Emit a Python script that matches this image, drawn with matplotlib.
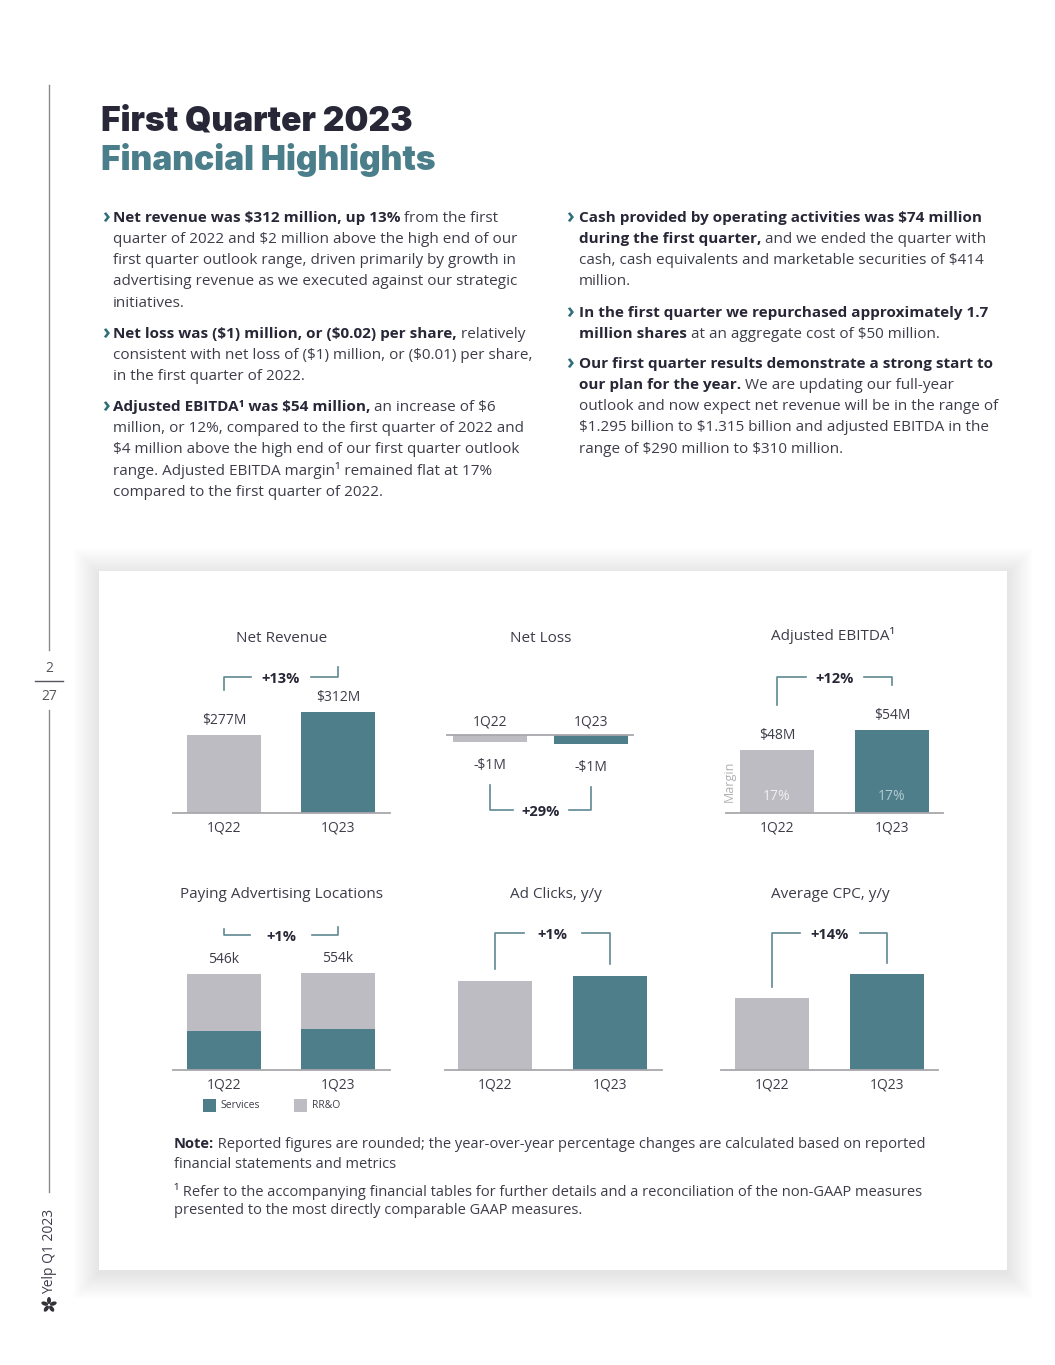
import math

import matplotlib.pyplot as plt
from matplotlib.patches import Rectangle, Ellipse

plt.rcParams["text.parse_math"] = False
plt.rcParams["font.family"] = ["Open Sans", "DejaVu Sans"]

W, H = 1055, 1365
DY = 2  # small nudge so centred text sits where the print does

TEAL = "#4d7e8a"
GREY = "#bdbcc2"
INK = "#3d3d4a"
DARK = "#272737"
LINE = "#5f8992"
AXIS = "#a8a8ac"
CHEVRON = "#2f6f7a"

# ---- data ----
quarters = ["1Q22", "1Q23"]
net_revenue = [277, 312]
net_revenue_labels = ["$277M", "$312M"]
net_loss = [-1.0, -1.3]
net_loss_labels = ["-$1M", "-$1M"]
adj_ebitda = [48, 54]
adj_ebitda_labels = ["$48M", "$54M"]
ebitda_margin = ["17%", "17%"]
pal_services = [222, 235]
pal_rro = [324, 319]
pal_labels = ["546k", "554k"]
ad_clicks = [100, 101]  # indexed, 1Q22 = 100
avg_cpc = [100, 114]    # indexed, 1Q22 = 100
chg_revenue, chg_loss, chg_ebitda = "+13%", "+29%", "+12%"
chg_pal, chg_clicks, chg_cpc = "+1%", "+1%", "+14%"

left_bullets = [
    [[("Net revenue was $312 million, up 13%", True), (" from the first", False)],
     [("quarter of 2022 and $2 million above the high end of our", False)],
     [("first quarter outlook range, driven primarily by growth in", False)],
     [("advertising revenue as we executed against our strategic", False)],
     [("initiatives.", False)]],
    [[("Net loss was ($1) million, or ($0.02) per share,", True), (" relatively", False)],
     [("consistent with net loss of ($1) million, or ($0.01) per share,", False)],
     [("in the first quarter of 2022.", False)]],
    [[("Adjusted EBITDA\u00b9 was $54 million,", True), (" an increase of $6", False)],
     [("million, or 12%, compared to the first quarter of 2022 and", False)],
     [("$4 million above the high end of our first quarter outlook", False)],
     [("range. Adjusted EBITDA margin\u00b9 remained flat at 17%", False)],
     [("compared to the first quarter of 2022.", False)]],
]
left_starts = [216, 332, 405]

right_bullets = [
    [[("Cash provided by operating activities was $74 million", True)],
     [("during the first quarter,", True), (" and we ended the quarter with", False)],
     [("cash, cash equivalents and marketable securities of $414", False)],
     [("million.", False)]],
    [[("In the first quarter we repurchased approximately 1.7", True)],
     [("million shares", True), (" at an aggregate cost of $50 million.", False)]],
    [[("Our first quarter results demonstrate a strong start to", True)],
     [("our plan for the year.", True), (" We are updating our full-year", False)],
     [("outlook and now expect net revenue will be in the range of", False)],
     [("$1.295 billion to $1.315 billion and adjusted EBITDA in the", False)],
     [("range of $290 million to $310 million.", False)]],
]
right_starts = [216, 311, 362]

fig = plt.figure(figsize=(W / 100, H / 100), dpi=100)
page = fig.add_axes([0, 0, 1, 1])
page.set_xlim(0, W)
page.set_ylim(H, 0)
page.axis("off")


def ptext(x, y, s, **kw):
    kw.setdefault("va", "center")
    kw.setdefault("zorder", 5)
    return page.text(x, y + DY, s, **kw)


def rich_line(x, y, parts, size=11, color=INK):
    prev = None
    for txt, bold in parts:
        kw = dict(fontsize=size, color=DARK if bold else color,
                  fontweight="bold" if bold else "normal", va="center", ha="left", zorder=5)
        if prev is None:
            prev = page.text(x, y + DY, txt, **kw)
        else:
            prev = page.annotate(txt, xy=(1, y + DY), xycoords=(prev, "data"), **kw)
    return prev


def bullet_column(x_chev, x_text, bullets, starts, step=21.3):
    for lines, y0 in zip(bullets, starts):
        ptext(x_chev, y0 - 1, "\u203a", fontsize=15, fontweight="bold", color=CHEVRON)
        for k, parts in enumerate(lines):
            rich_line(x_text, y0 + k * step, parts)


# ---- title ----
page.text(101, 131, "First Quarter 2023", fontsize=24.2, fontweight=900, family="Inter",
          color=DARK, va="baseline")
page.text(101, 170, "Financial Highlights", fontsize=24.2, fontweight=900, family="Inter",
          color="#4a7e8a", va="baseline")

bullet_column(102, 113, left_bullets, left_starts)
bullet_column(566, 579, right_bullets, right_starts)

# ---- side rail ----
page.plot([49, 49], [85, 650], color="#8a8a8e", lw=1)
page.plot([49, 49], [710, 1192], color="#8a8a8e", lw=1)
page.plot([35, 63], [681, 681], color="#55555c", lw=1)
ptext(49, 667, "2", fontsize=10, color="#55555c", ha="center")
ptext(49, 694, "27", fontsize=10, color="#55555c", ha="center")
ptext(50, 1249, "Yelp Q1 2023", fontsize=10, color="#3d3d4a", rotation=90, ha="center")
for ang in range(0, 360, 72):
    r = math.radians(ang - 90)
    page.add_patch(Ellipse((49 + 4.5 * math.cos(r), 1305 + 4.5 * math.sin(r)), 7, 4,
                           angle=ang - 90, color="#333338", lw=0))

# ---- card with soft shadow ----
for k in range(1, 27):
    page.add_patch(Rectangle((99 - k, 571 - k + 3), 908 + 2 * k, 699 + 2 * k,
                             fc="black", alpha=0.0034, lw=0, zorder=0))
page.add_patch(Rectangle((99, 571), 908, 699, fc="white", lw=0, zorder=1))


def to_page(ax, x, y):
    disp = ax.transData.transform((x, y))
    return page.transData.inverted().transform(disp)


def chart_axes(left, right, base, c0, step, lo, ppu, height=150, down=False, tick_pad=5.5):
    if down:
        ax = fig.add_axes([left / W, 1 - (base + height) / H, (right - left) / W, height / H])
        ax.set_ylim(-height / ppu, 0)
    else:
        ax = fig.add_axes([left / W, 1 - base / H, (right - left) / W, height / H])
        ax.set_ylim(lo, lo + height / ppu)
    ax.set_xlim((left - c0) / step, (right - c0) / step)
    ax.patch.set_alpha(0)
    for s in ax.spines.values():
        s.set_visible(False)
    sp = "top" if down else "bottom"
    ax.spines[sp].set_visible(True)
    ax.spines[sp].set_color(AXIS)
    ax.spines[sp].set_linewidth(1.3)
    ax.set_yticks([])
    ax.set_xticks([0, 1], quarters)
    if down:
        ax.xaxis.tick_top()
    ax.tick_params(axis="x", length=0, pad=tick_pad, labelsize=10, labelcolor=INK)
    return ax


def value_labels(ax, vals, labels, off=16.5):
    for i, (v, lab) in enumerate(zip(vals, labels)):
        x, y = to_page(ax, i, v)
        ptext(x, y - off, lab, fontsize=10, color=INK, ha="center")


def bracket(ax, tops, gap, y_line, label, halfgap=30, below=False):
    (x0, t0), (x1, t1) = [to_page(ax, i, v) for i, v in enumerate(tops)]
    sgn = 1 if below else -1
    e0, e1 = t0 + sgn * gap, t1 + sgn * gap
    mid = (x0 + x1) / 2
    page.plot([x0, x0, mid - halfgap], [e0, y_line, y_line], color=LINE, lw=1.2, zorder=5)
    page.plot([mid + halfgap, x1, x1], [y_line, y_line, e1], color=LINE, lw=1.2, zorder=5)
    ptext(mid, y_line, label, fontsize=10.5, fontweight="bold", color=DARK, ha="center")


def chart_title(x, y, s):
    ptext(x, y, s, fontsize=11, color=INK, ha="center")


bar_w = 0.65
colors = [GREY, TEAL]

# Net Revenue
ax1 = chart_axes(173, 390, 813, 224, 114, 158.3, 0.657)
ax1.bar([0, 1], net_revenue, width=bar_w, color=colors)
value_labels(ax1, net_revenue, net_revenue_labels)
bracket(ax1, net_revenue, 45.5, 677, chg_revenue)
chart_title(282, 636, "Net Revenue")

# Net Loss
ax2 = chart_axes(447, 633, 735, 490, 101, 0, 7.3, height=60, down=True, tick_pad=4)
ax2.bar([0, 1], net_loss, width=74 / 101, color=colors)
for i, (v, lab) in enumerate(zip(net_loss, net_loss_labels)):
    x, y = to_page(ax2, i, v)
    ptext(x, y + 21, lab, fontsize=10, color=INK, ha="center")
bracket(ax2, net_loss, 43, 810, chg_loss, halfgap=28, below=True)
chart_title(541, 636, "Net Loss")

# Adjusted EBITDA
ax3 = chart_axes(726, 943, 813, 777, 115, 29.1, 3.333)
ax3.bar([0, 1], adj_ebitda, width=74 / 115, color=colors)
value_labels(ax3, adj_ebitda, adj_ebitda_labels)
bracket(ax3, adj_ebitda, 45.5, 677, chg_ebitda, halfgap=29)
for i, (m, c) in enumerate(zip(ebitda_margin, ["#f0f0f2", "#b3cbd1"])):
    ax3.annotate(m, xy=(i, 0), xycoords=("data", "axes fraction"), xytext=(0, 16),
                 textcoords="offset pixels", ha="center", va="center", fontsize=10, color=c)
ptext(729, 779, "Margin", fontsize=9, color="#b0b0b5", rotation=90, ha="center")
chart_title(833, 634, "Adjusted EBITDA\u00b9")

# Paying Advertising Locations
ax4 = chart_axes(173, 390, 1070, 224, 114, 0, 0.1755)
ax4.bar([0, 1], pal_services, width=bar_w, color=TEAL)
ax4.bar([0, 1], pal_rro, width=bar_w, bottom=pal_services, color=GREY)
pal_total = [s + r for s, r in zip(pal_services, pal_rro)]
value_labels(ax4, pal_total, pal_labels)
bracket(ax4, pal_total, 45.5, 935, chg_pal, halfgap=31)
chart_title(282, 892, "Paying Advertising Locations")
page.add_patch(Rectangle((203, 1099), 13, 13, fc=TEAL, lw=0, zorder=5))
ptext(220, 1104, "Services", fontsize=7.5, color=INK)
page.add_patch(Rectangle((294, 1099), 13, 13, fc=GREY, lw=0, zorder=5))
ptext(312, 1104, "RR&O", fontsize=7.5, color=INK)

# Ad Clicks
ax5 = chart_axes(445, 662, 1070, 495, 115, 82.2, 5.0)
ax5.bar([0, 1], ad_clicks, width=74 / 115, color=colors)
bracket(ax5, ad_clicks, 12.5, 933, chg_clicks, halfgap=29)
chart_title(556, 892, "Ad Clicks, y/y")

# Average CPC
ax6 = chart_axes(721, 938, 1070, 772, 115, 58.0, 1.714)
ax6.bar([0, 1], avg_cpc, width=74 / 115, color=colors)
bracket(ax6, avg_cpc, 11, 933, chg_cpc, halfgap=30)
chart_title(830, 892, "Average CPC, y/y")

# ---- notes ----
NOTE = 10.55
rich_line(174, 1142, [("Note:", True), (" Reported figures are rounded; the year-over-year "
          "percentage changes are calculated based on reported", False)], size=NOTE)
rich_line(174, 1162, [("financial statements and metrics", False)], size=NOTE)
rich_line(174, 1189, [("\u00b9 Refer to the accompanying financial tables for further details "
          "and a reconciliation of the non-GAAP measures", False)], size=NOTE)
rich_line(174, 1209, [("presented to the most directly comparable GAAP measures.", False)],
          size=NOTE)

fig.savefig("out.png", dpi=100)
